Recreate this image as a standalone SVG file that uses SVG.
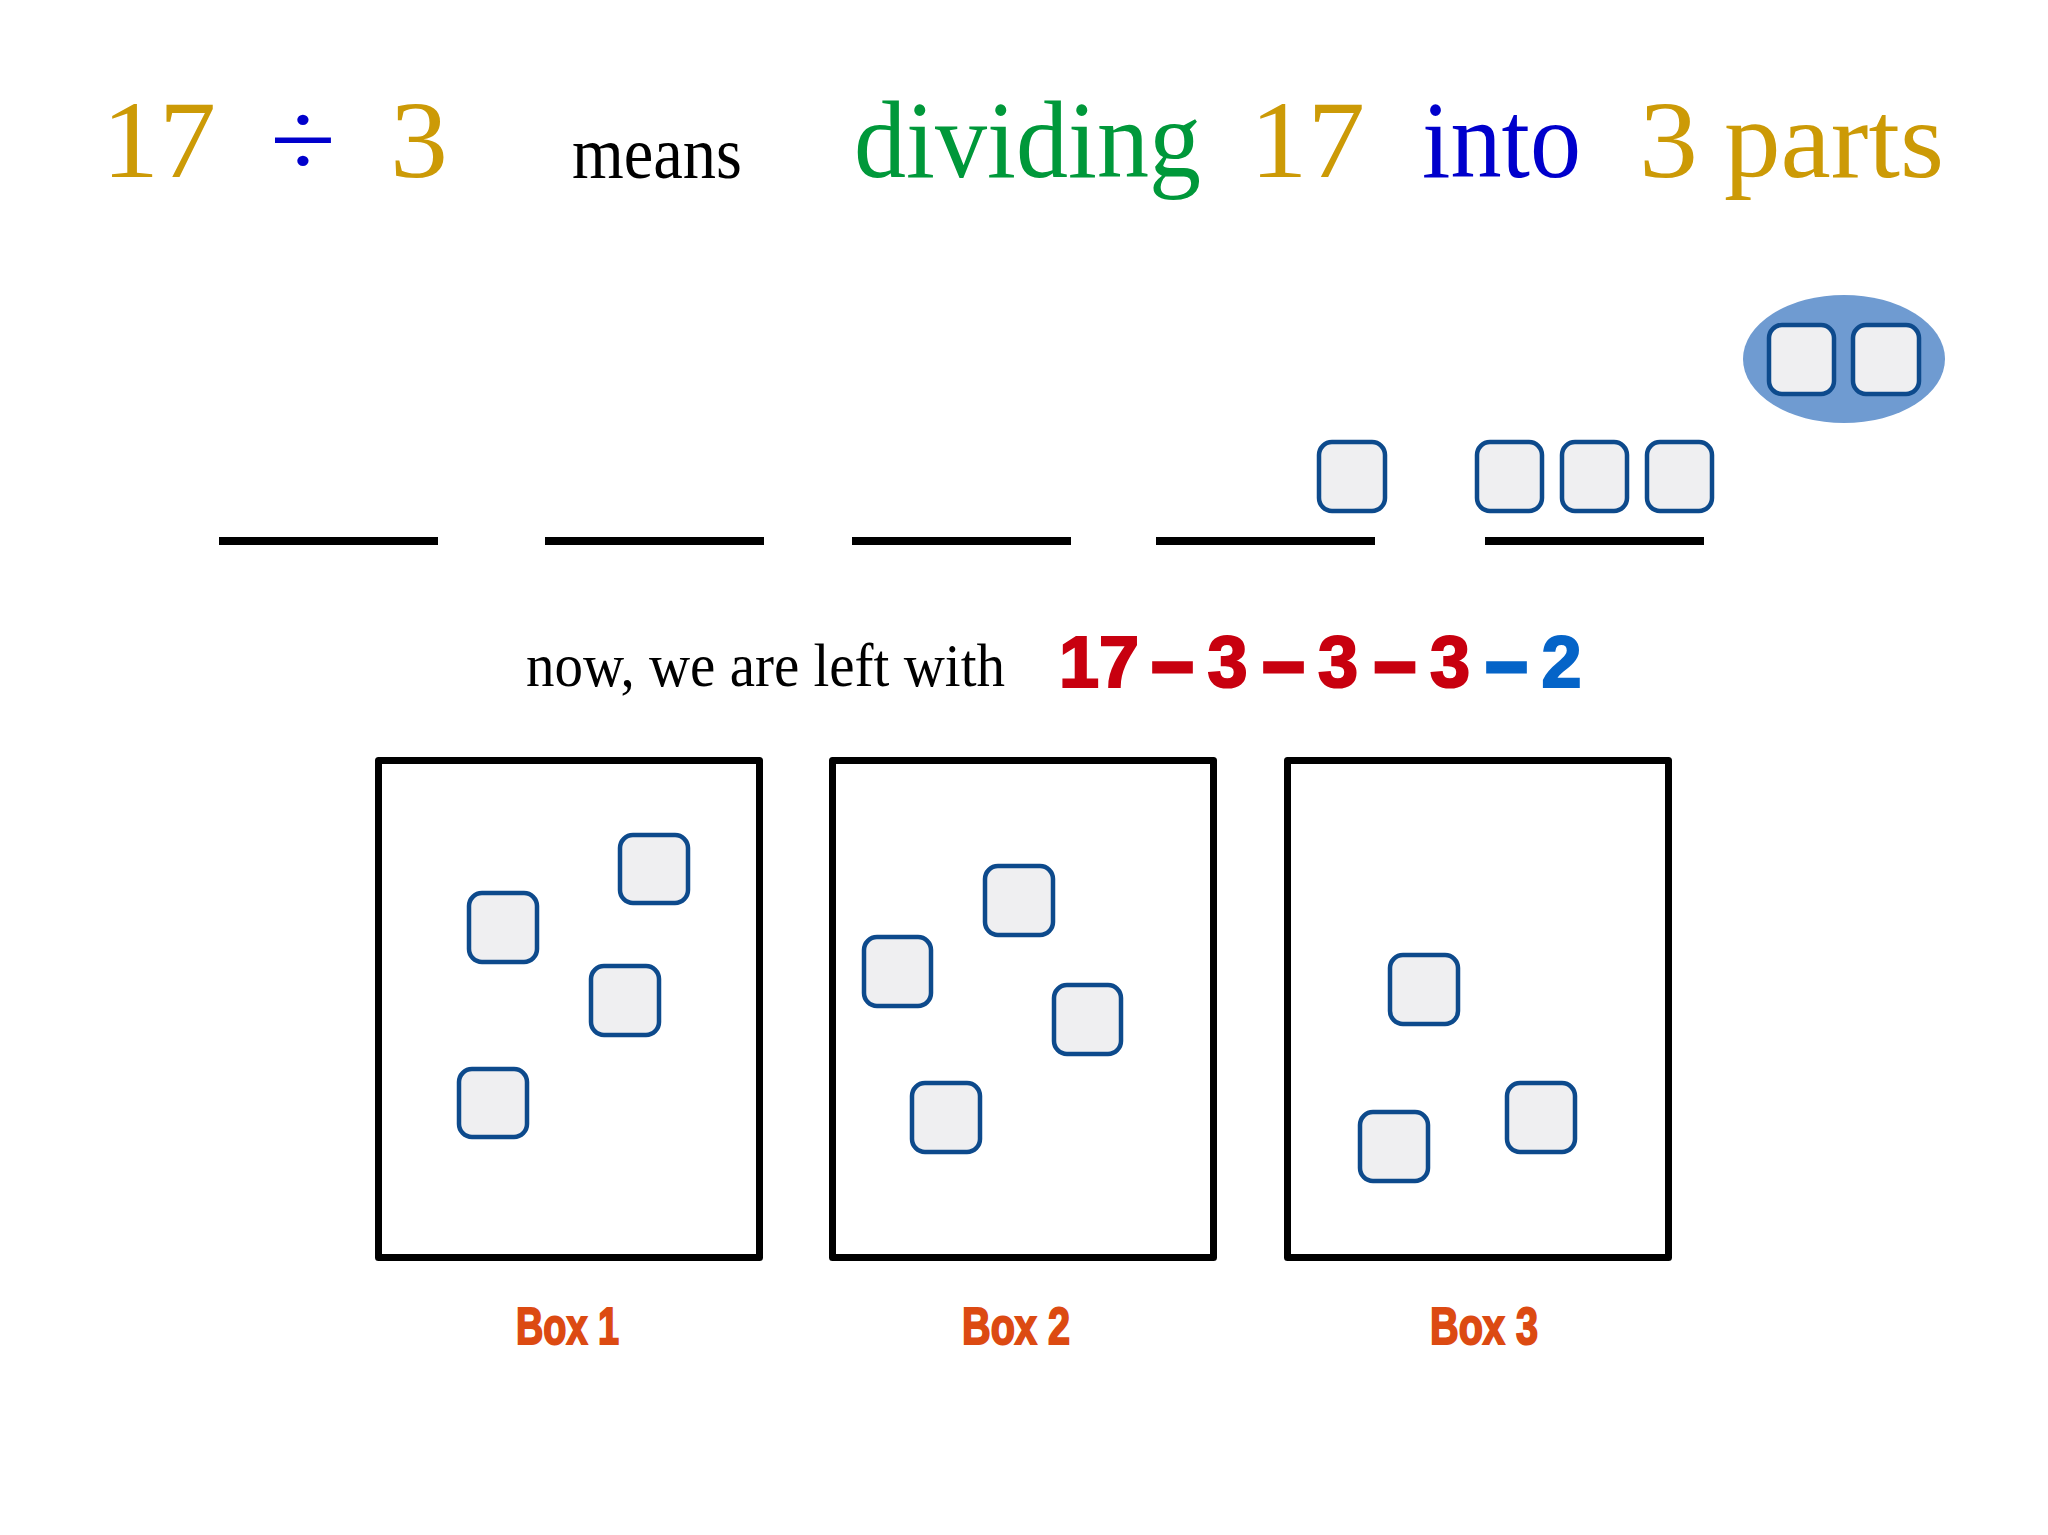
<svg xmlns="http://www.w3.org/2000/svg" width="2048" height="1535" viewBox="0 0 2048 1535">
<style>
.serif{font-family:"Liberation Serif","Times New Roman",serif}
.gold{fill:#CC9A06}
.blue{fill:#0000CC}
.green{fill:#00983A}
.bar{stroke:#000;stroke-width:8;stroke-linecap:butt}
.tile{fill:#EFEFF1;stroke:#0D4A8C;stroke-width:4.5}
.box{fill:none;stroke:#000;stroke-width:7;stroke-linejoin:round}
.expr{font-family:"Liberation Sans",Arial,sans-serif;font-weight:bold;font-size:72px}
.red{fill:#C8000F;stroke:#C8000F;stroke-width:2.2}
.eblue{fill:#0564C8;stroke:#0564C8;stroke-width:2.2}
.dash{stroke-width:5}
.label{font-family:"Liberation Sans",Arial,sans-serif;font-weight:bold;font-size:52px;fill:#DC4A12;stroke:#DC4A12;stroke-width:2}
</style>
<rect width="2048" height="1535" fill="#FFFFFF"/>

<g id="title">
  <text class="serif gold" x="102" y="177" font-size="111" textLength="114" lengthAdjust="spacingAndGlyphs">17</text>
  <text class="serif blue" x="270" y="177" font-size="111" textLength="66" lengthAdjust="spacingAndGlyphs">÷</text>
  <text class="serif gold" x="390" y="177" font-size="111" textLength="58" lengthAdjust="spacingAndGlyphs">3</text>
  <text class="serif" x="572" y="178" font-size="74" fill="#000" textLength="170" lengthAdjust="spacingAndGlyphs">means</text>
  <text class="serif green" x="854" y="177" font-size="111" textLength="347" lengthAdjust="spacingAndGlyphs">dividing</text>
  <text class="serif gold" x="1250" y="177" font-size="111" textLength="115" lengthAdjust="spacingAndGlyphs">17</text>
  <text class="serif blue" x="1422" y="177" font-size="111" textLength="159" lengthAdjust="spacingAndGlyphs">into</text>
  <text class="serif gold" y="177" font-size="111"><tspan x="1639" textLength="59" lengthAdjust="spacingAndGlyphs">3</tspan><tspan x="1724" textLength="220" lengthAdjust="spacingAndGlyphs">parts</tspan></text>
</g>

<g id="leftover">
  <ellipse cx="1844" cy="359" rx="101" ry="64" fill="#6F9BD1"/>
  <rect class="tile" x="1769" y="325" width="65" height="69" rx="13"/>
  <rect class="tile" x="1853" y="325" width="66" height="69" rx="13"/>
</g>

<g id="blanks">
  <line class="bar" x1="219" y1="541" x2="438" y2="541"/>
  <line class="bar" x1="545" y1="541" x2="764" y2="541"/>
  <line class="bar" x1="852" y1="541" x2="1071" y2="541"/>
  <line class="bar" x1="1156" y1="541" x2="1375" y2="541"/>
  <line class="bar" x1="1485" y1="541" x2="1704" y2="541"/>
</g>

<g id="row-tiles">
  <rect class="tile" x="1319" y="442" width="66" height="69" rx="13"/>
  <rect class="tile" x="1477" y="442" width="65" height="69" rx="13"/>
  <rect class="tile" x="1562" y="442" width="65" height="69" rx="13"/>
  <rect class="tile" x="1647" y="442" width="65" height="69" rx="13"/>
</g>

<g id="statement">
  <text class="serif" x="526" y="686" font-size="62" fill="#000" textLength="479" lengthAdjust="spacingAndGlyphs">now, we are left with</text>
  <text class="expr" y="687" text-anchor="middle"><tspan class="red" x="1099">17</tspan><tspan class="red dash" x="1172.5">–</tspan><tspan class="red" x="1227.5">3</tspan><tspan class="red dash" x="1283.5">–</tspan><tspan class="red" x="1338">3</tspan><tspan class="red dash" x="1395">–</tspan><tspan class="red" x="1450">3</tspan><tspan class="eblue dash" x="1506.5">–</tspan><tspan class="eblue" x="1561.5">2</tspan></text>
</g>

<g id="box1">
  <rect class="box" x="378.5" y="760.5" width="381" height="497"/>
  <rect class="tile" x="620" y="835" width="68" height="68" rx="13"/>
  <rect class="tile" x="469" y="893" width="68" height="69" rx="13"/>
  <rect class="tile" x="591" y="966" width="68" height="69" rx="13"/>
  <rect class="tile" x="459" y="1069" width="68" height="68" rx="13"/>
  <text class="label" x="516" y="1344" textLength="103" lengthAdjust="spacingAndGlyphs">Box 1</text>
</g>

<g id="box2">
  <rect class="box" x="832.5" y="760.5" width="381" height="497"/>
  <rect class="tile" x="985" y="866" width="68" height="69" rx="13"/>
  <rect class="tile" x="864" y="937" width="67" height="69" rx="13"/>
  <rect class="tile" x="1054" y="985" width="67" height="69" rx="13"/>
  <rect class="tile" x="912" y="1083" width="68" height="69" rx="13"/>
  <text class="label" x="962" y="1344" textLength="108" lengthAdjust="spacingAndGlyphs">Box 2</text>
</g>

<g id="box3">
  <rect class="box" x="1287.5" y="760.5" width="381" height="497"/>
  <rect class="tile" x="1390" y="955" width="68" height="69" rx="13"/>
  <rect class="tile" x="1507" y="1083" width="68" height="69" rx="13"/>
  <rect class="tile" x="1360" y="1112" width="68" height="69" rx="13"/>
  <text class="label" x="1430" y="1344" textLength="108" lengthAdjust="spacingAndGlyphs">Box 3</text>
</g>

<g id="connectors"/>
</svg>
